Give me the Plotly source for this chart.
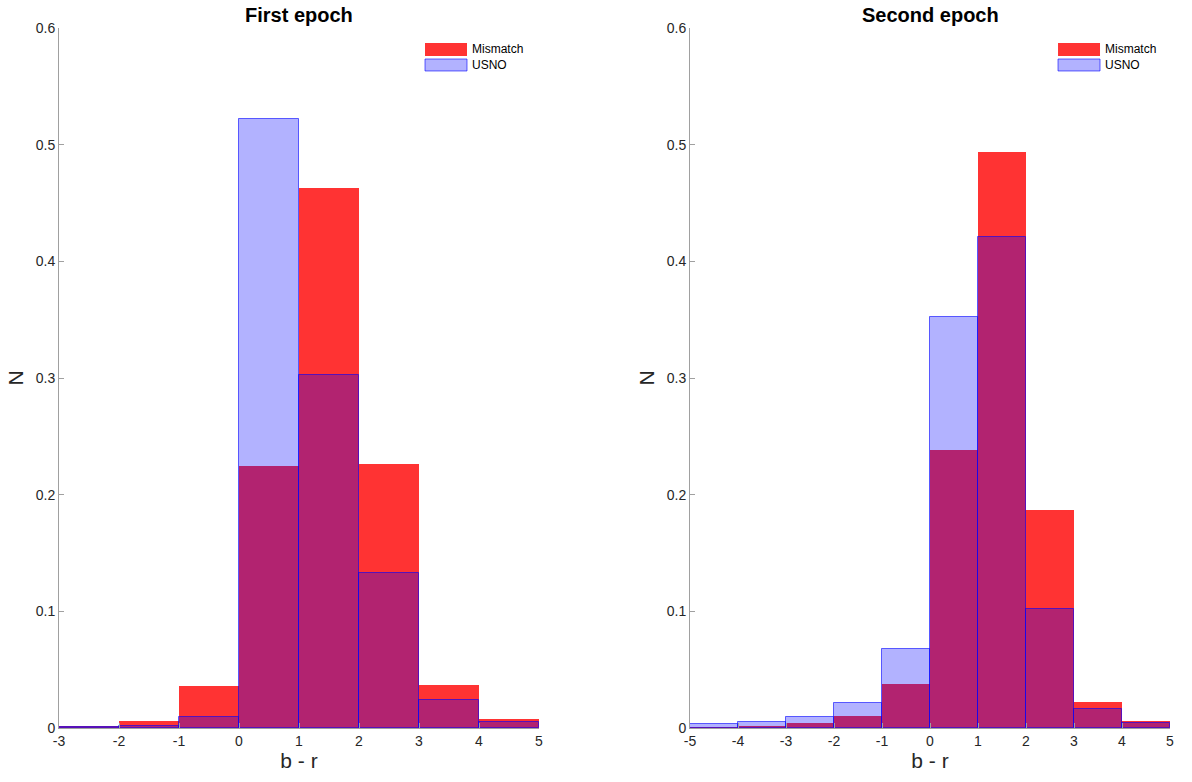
import plotly.graph_objects as go

# ---- data ----
first_centers = [-2.5, -1.5, -0.5, 0.5, 1.5, 2.5, 3.5, 4.5]
first_mismatch = [0.0015, 0.006, 0.036, 0.225, 0.463, 0.226, 0.037, 0.0077]
first_usno = [0.0005, 0.0017, 0.0097, 0.522, 0.303, 0.133, 0.024, 0.0055]

second_centers = [-4.5, -3.5, -2.5, -1.5, -0.5, 0.5, 1.5, 2.5, 3.5, 4.5]
second_mismatch = [0.001, 0.0017, 0.0043, 0.0106, 0.038, 0.238, 0.494, 0.187, 0.0223, 0.006]
second_usno = [0.0034, 0.005, 0.0092, 0.0217, 0.068, 0.352, 0.421, 0.102, 0.016, 0.004]

first_xticks = [-3, -2, -1, 0, 1, 2, 3, 4, 5]
second_xticks = [-5, -4, -3, -2, -1, 0, 1, 2, 3, 4, 5]
yticks = [0, 0.1, 0.2, 0.3, 0.4, 0.5, 0.6]
titles = ["First epoch", "Second epoch"]
series_names = ["Mismatch", "USNO"]

RED = "rgba(255,0,0,0.8)"
BLUE = "rgba(0,0,255,0.3)"
BLUE_EDGE = "rgba(0,0,255,0.6)"
FONT = "Liberation Sans, Arial, Helvetica, sans-serif"
TXT = "#262626"
AX = "#a0a0a0"

fig = go.Figure()

panels = [
    (first_centers, first_mismatch, first_usno, "x", "y"),
    (second_centers, second_mismatch, second_usno, "x2", "y2"),
]

for centers, mm, us, xa, ya in panels:
    fig.add_trace(go.Bar(x=centers, y=mm, width=1, name=series_names[0],
                         marker=dict(color=RED, line=dict(width=0)),
                         xaxis=xa, yaxis=ya, showlegend=False))
    fig.add_trace(go.Bar(x=centers, y=us, width=1, name=series_names[1],
                         marker=dict(color=BLUE, line=dict(width=1, color=BLUE_EDGE)),
                         xaxis=xa, yaxis=ya, showlegend=False))

axis_common = dict(showgrid=False, zeroline=False, showline=True, linecolor=AX,
                   linewidth=1, ticks="inside", ticklen=5, tickcolor=AX,
                   tickfont=dict(family=FONT, size=14, color=TXT), mirror=False,
                   automargin=False)
title_font = dict(family=FONT, size=21, color=TXT)

fig.update_layout(
    width=1192, height=782,
    margin=dict(l=59, r=22, t=28, b=54),
    paper_bgcolor="white", plot_bgcolor="white",
    barmode="overlay", bargap=0,
    showlegend=False,
    xaxis=dict(domain=[0, 480 / 1111], range=[-3, 5],
               tickvals=first_xticks, ticktext=[str(v) for v in first_xticks],
               title=dict(text="b - r", font=title_font, standoff=0),
               **axis_common),
    yaxis=dict(domain=[0, 1], range=[0, 0.6], tickvals=yticks,
               ticktext=[("%g" % v) for v in yticks],
               title=dict(text="N", font=title_font, standoff=6),
               **axis_common),
    xaxis2=dict(domain=[631 / 1111, 1], range=[-5, 5],
                tickvals=second_xticks, ticktext=[str(v) for v in second_xticks],
                title=dict(text="b - r", font=title_font, standoff=0),
                anchor="y2", **axis_common),
    yaxis2=dict(domain=[0, 1], range=[0, 0.6], tickvals=yticks,
                ticktext=[("%g" % v) for v in yticks],
                title=dict(text="N", font=title_font, standoff=6),
                anchor="x2", **axis_common),
)

# titles and legends
for i, (xd, title) in enumerate(zip(["x domain", "x2 domain"], titles)):
    fig.add_annotation(xref=xd, yref="paper", x=0.5, y=1, yanchor="bottom", yshift=0,
                       text="<b>%s</b>" % title, showarrow=False,
                       font=dict(family=FONT, size=20, color="black"))
    yd = "y domain" if i == 0 else "y2 domain"
    x0 = 0.7625 if i == 0 else 0.7667
    x1 = x0 + 42 / 480
    fig.add_shape(type="rect", xref=xd, yref=yd, x0=x0, x1=x1, y0=0.960, y1=0.9786,
                  fillcolor=RED, line=dict(width=0))
    fig.add_shape(type="rect", xref=xd, yref=yd, x0=x0, x1=x1, y0=0.9386, y1=0.9557,
                  fillcolor=BLUE, line=dict(width=1, color=BLUE_EDGE))
    for name, yy in zip(series_names, [0.9693, 0.9471]):
        fig.add_annotation(xref=xd, yref=yd, x=x1 + 3 / 480, y=yy, xanchor="left",
                           yanchor="middle", text=name, showarrow=False,
                           font=dict(family=FONT, size=12, color="black"))

fig.write_html("out.html", config={"displayModeBar": False},
               post_script="document.body.style.margin='0';")
